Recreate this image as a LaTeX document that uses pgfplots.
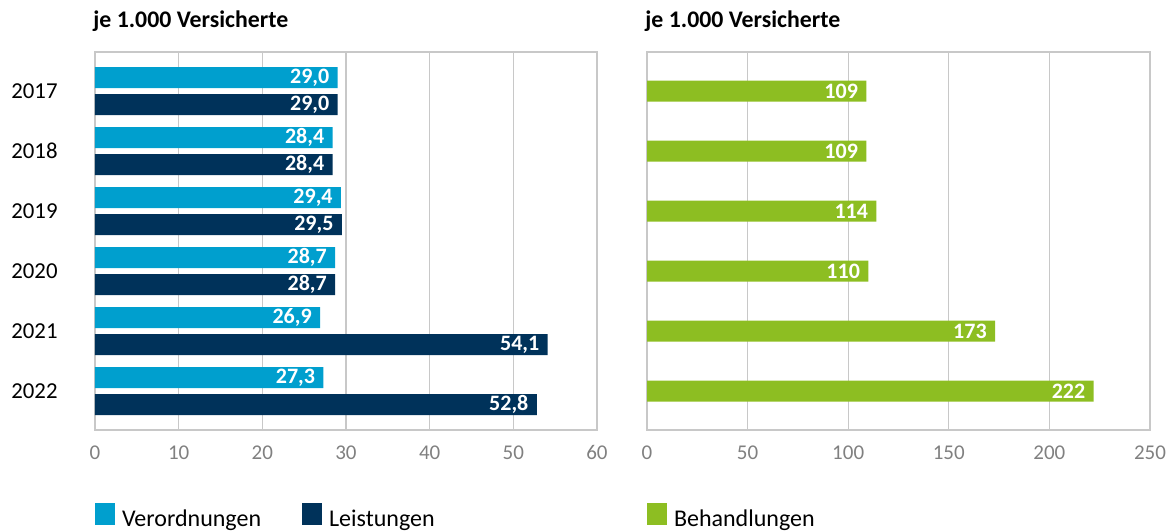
\documentclass[border=0pt]{standalone}
\usepackage{pgfplots}
\pgfplotsset{compat=1.18}
\usepackage{fontspec}
\setmainfont{Carlito}

\definecolor{hellblau}{RGB}{0,159,206}
\definecolor{dunkelblau}{RGB}{0,50,90}
\definecolor{gruen}{RGB}{141,190,34}
\definecolor{gitter}{RGB}{200,200,200}
\definecolor{ticktext}{RGB}{128,128,128}

\pgfplotsset{
  panel/.style={
    xbar,
    scale only axis,
    height=189pt,
    ymin=-0.65, ymax=5.65,
    xmin=0,
    bar width=10.5pt,
    axis line style={gitter, line width=0.8pt},
    xmajorgrids,
    major grid style={gitter, line width=0.6pt},
    major tick length=0pt,
    /pgf/number format/assume math mode=true,
    xticklabel style={ticktext, font=\fontsize{10.5}{12}\selectfont, inner sep=0pt, yshift=-7.5pt},
    yticklabel style={black, font=\fontsize{11.4}{13}\selectfont, inner sep=0pt, xshift=-18.5pt},
    point meta=x,
    nodes near coords,
    every node near coord/.append style={white, font=\bfseries\fontsize{11}{13}\selectfont,
      anchor=east, inner sep=0pt, xshift=-4pt},
    legend image code/.code={\fill[#1] (0pt,-2.5pt) rectangle (10pt,8.5pt);},
    legend style={draw=none, fill=none, at={(0,0)}, anchor=north west, yshift=-36.5pt,
      inner sep=0pt, outer sep=0pt, font=\fontsize{12}{13}\selectfont,
      nodes={inner sep=0pt},
      /tikz/every odd column/.append style={column sep=3.5pt},
      /tikz/every even column/.append style={column sep=20.5pt}},
    legend cell align=left,
    clip=false,
  }
}

\begin{document}
\begin{tikzpicture}
\useasboundingbox (0,0) rectangle (588pt,265.5pt);

% links: Verordnungen und Leistungen
\begin{axis}[panel,
    at={(47.5pt,50.5pt)}, anchor=south west,
    width=251pt,
    xmax=60, xtick={0,10,...,60},
    ytick={0,...,5}, yticklabels={2022,2021,2020,2019,2018,2017},
    nodes near coords={\pgfmathprintnumber[fixed,fixed zerofill,precision=1,use comma]{\pgfplotspointmeta}},
    legend columns=2,
  ]
\addplot[fill=hellblau, draw=none, bar shift=6.75pt] coordinates {
  (29.0,5) (28.4,4) (29.4,3) (28.7,2) (26.9,1) (27.3,0)};
\addlegendentry{Verordnungen}
\addplot[fill=dunkelblau, draw=none, bar shift=-6.75pt] coordinates {
  (29.0,5) (28.4,4) (29.5,3) (28.7,2) (54.1,1) (52.8,0)};
\addlegendentry{Leistungen}
\node[anchor=base west, font=\bfseries\fontsize{11.9}{14}\selectfont, inner sep=0pt, xshift=-1pt, yshift=12.5pt]
  at (rel axis cs:0,1) {je 1.000 Versicherte};
\end{axis}

% rechts: Behandlungen
\begin{axis}[panel,
    at={(323.5pt,50.5pt)}, anchor=south west,
    width=251.5pt,
    xmax=250, xtick={0,50,...,250},
    ytick=\empty,
    nodes near coords={\pgfmathprintnumber[fixed,precision=0]{\pgfplotspointmeta}},
  ]
\addplot[fill=gruen, draw=none, bar shift=0pt] coordinates {
  (109,5) (109,4) (114,3) (110,2) (173,1) (222,0)};
\addlegendentry{Behandlungen}
\node[anchor=base west, font=\bfseries\fontsize{11.9}{14}\selectfont, inner sep=0pt, xshift=-1pt, yshift=12.5pt]
  at (rel axis cs:0,1) {je 1.000 Versicherte};
\end{axis}
\end{tikzpicture}
\end{document}
